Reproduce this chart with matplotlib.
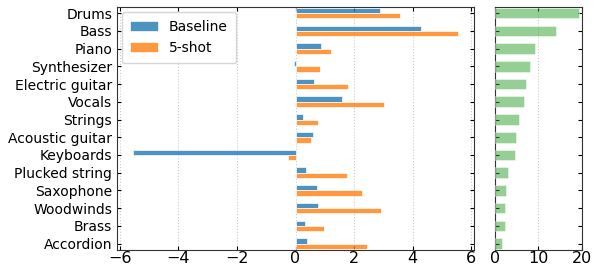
import numpy as np
import matplotlib.pyplot as plt

# instruments (top to bottom)
instruments = ["Drums", "Bass", "Piano", "Synthesizer", "Electric guitar", "Vocals",
               "Strings", "Acoustic guitar", "Keyboards", "Plucked string",
               "Saxophone", "Woodwinds", "Brass", "Accordion"]
baseline = [2.89, 4.29, 0.87, -0.05, 0.64, 1.60, 0.24, 0.59, -5.54, 0.35, 0.73, 0.77, 0.33, 0.40]
fewshot = [3.58, 5.54, 1.20, 0.84, 1.78, 3.04, 0.77, 0.52, -0.25, 1.77, 2.26, 2.91, 0.97, 2.43]
share = [19.5, 14.0, 9.3, 8.1, 7.25, 6.7, 5.6, 4.9, 4.7, 2.9, 2.5, 2.4, 2.2, 1.7]

fig = plt.figure(figsize=(5.98, 2.68), dpi=100)
ax = fig.add_axes([0.1957, 0.068, 0.597, 0.906])
ax2 = fig.add_axes([0.8278, 0.068, 0.1462, 0.906])

y = np.arange(len(instruments))
h = 0.3
ax.barh(y - h / 2, baseline, height=h, color="tab:blue", alpha=0.8,
        edgecolor="white", linewidth=0.6, label="Baseline", zorder=3)
ax.barh(y + h / 2, fewshot, height=h, color="tab:orange", alpha=0.8,
        edgecolor="white", linewidth=0.6, label="5-shot", zorder=3)
ax.set_yticks(y)
ax.set_yticklabels(instruments, fontsize=10)
ax.set_ylim(len(instruments) - 0.65, -0.35)
ax.set_xlim(-6.1, 6.1)
ax.set_xticks([-6, -4, -2, 0, 2, 4, 6])
ax.grid(axis="x", linestyle=":", color="#cccccc", linewidth=0.8, zorder=0)
ax.legend(loc="upper left", fontsize=10, handlelength=2.0, borderpad=0.6,
          borderaxespad=0.35)

ax2.barh(y, share, height=0.6, color="tab:green", alpha=0.5,
         edgecolor="white", linewidth=0.6, zorder=3)
ax2.set_yticks(y)
ax2.set_yticklabels([])
ax2.set_ylim(len(instruments) - 0.65, -0.35)
ax2.set_xlim(0, 20.2)
ax2.set_xticks([0, 10, 20])
ax2.grid(axis="x", linestyle=":", color="#cccccc", linewidth=0.8, zorder=0)

for a in (ax, ax2):
    a.tick_params(direction="in", top=True, right=True, length=3, width=0.8)
    a.tick_params(axis="x", labelsize=11.5, pad=1)
    for s in a.spines.values():
        s.set_color("#333333")
        s.set_linewidth(0.8)

fig.savefig("out.png", dpi=100)
